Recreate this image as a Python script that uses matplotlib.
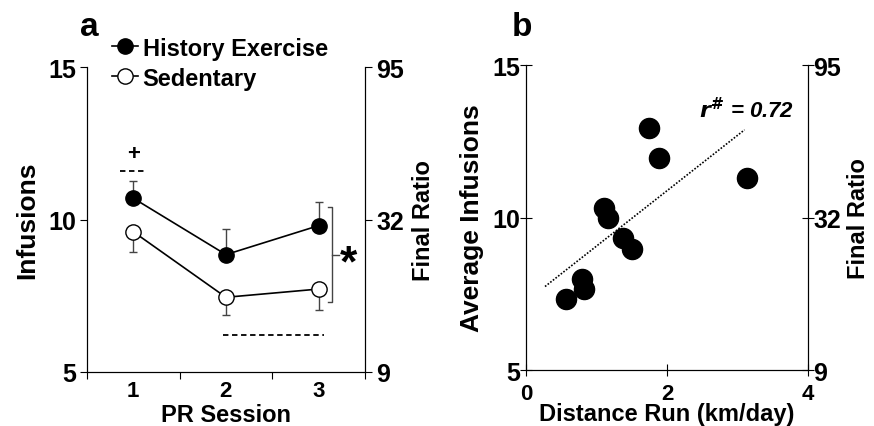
import matplotlib.pyplot as plt

plt.rcParams['font.family'] = ['Liberation Sans', 'DejaVu Sans']
plt.rcParams['font.weight'] = 'bold'

# panel a data
sessions = [1, 2, 3]
exercise_mean = [10.7, 8.85, 9.8]
exercise_sem = [0.55, 0.85, 0.78]
sedentary_mean = [9.6, 7.45, 7.72]
sedentary_sem = [0.68, 0.58, 0.68]

# panel b data
distance = [0.57, 0.80, 0.82, 1.10, 1.17, 1.37, 1.50, 1.74, 1.88, 3.13]
avg_infusions = [7.32, 7.98, 7.65, 10.33, 10.0, 9.32, 8.98, 12.95, 11.97, 11.29]
fit_x = [0.27, 3.10]
fit_y = [7.74, 12.88]

left_ticks = [5, 10, 15]
right_labels = ['9', '32', '95']

fig = plt.figure(figsize=(8.74, 4.27), dpi=100)

# ---- panel a ----
ax1 = fig.add_axes([0.0995, 0.1265, 0.318, 0.714])
ax1.errorbar(sessions, exercise_mean, yerr=[[0, 0, 0], exercise_sem], fmt='none',
             ecolor='#444444', elinewidth=1.0, capsize=3, capthick=1.0)
ax1.errorbar(sessions, sedentary_mean, yerr=[sedentary_sem, [0, 0, 0]], fmt='none',
             ecolor='#444444', elinewidth=1.0, capsize=3, capthick=1.0)
ax1.plot(sessions, exercise_mean, '-o', color='black', mfc='black', mec='black',
         ms=11, lw=1.2, label='History Exercise', zorder=3)
ax1.plot(sessions, sedentary_mean, '-o', color='black', mfc='white', mec='black',
         ms=11, lw=1.2, label='Sedentary', zorder=3)

ax1.set_xlim(0.5, 3.5)
ax1.set_ylim(5, 15)
ax1.set_yticks(left_ticks)
ax1.set_xticks([0.5, 1.5, 2.5, 3.5])
ax1.set_xticklabels([])
ax1.set_xticks(sessions, minor=True)
ax1.set_xticklabels([str(s) for s in sessions], minor=True)
ax1.tick_params(axis='x', which='minor', length=0, labelsize=16, pad=6)
ax1.tick_params(axis='x', which='major', length=5, direction='out')
ax1.tick_params(axis='y', labelsize=18, length=5, pad=3)
ax1.spines['top'].set_visible(False)
ax1.set_ylabel('Infusions', fontsize=19, fontweight='bold', labelpad=6)
ax1.set_xlabel('PR Session', fontsize=17, fontweight='bold', labelpad=1)

# annotations
ax1.text(1.0, 12.15, '+', ha='center', va='center', fontsize=16, fontweight='bold')
ax1.plot([0.86, 1.13], [11.6, 11.6], color='black', ls=(0, (3, 2)), lw=1.3)
ax1.plot([1.97, 3.06], [6.2, 6.2], color='black', ls=(0, (3, 2)), lw=1.3)
ax1.plot([3.10, 3.15, 3.15, 3.10], [10.4, 10.4, 7.3, 7.3], color='#444444', lw=1.0)
ax1.plot([3.15, 3.22], [8.85, 8.85], color='#444444', lw=1.0)
ax1.text(3.32, 8.55, '*', ha='center', va='center', fontsize=32, fontweight='bold')

ax1r = ax1.twinx()
ax1r.set_ylim(5, 15)
ax1r.set_yticks(left_ticks)
ax1r.set_yticklabels(right_labels)
ax1r.tick_params(axis='y', labelsize=18, length=5, pad=3)
ax1r.spines['top'].set_visible(False)
ax1r.set_ylabel('Final Ratio', fontsize=17, fontweight='bold', labelpad=6)

leg = ax1.legend(loc='upper left', bbox_to_anchor=(0.09, 1.10), frameon=False,
                 fontsize=17, handlelength=1.1, handletextpad=0.2,
                 labelspacing=0.3, borderaxespad=0, borderpad=0)
for t in leg.get_texts():
    t.set_fontweight('bold')

fig.text(0.092, 0.935, 'a', fontsize=24, fontweight='bold', ha='left', va='center')

# ---- panel b ----
ax2 = fig.add_axes([0.6018, 0.131, 0.3227, 0.714])
ax2.scatter(distance, avg_infusions, s=210, color='black', zorder=3)
ax2.plot(fit_x, fit_y, color='black', ls=(0, (1, 1)), lw=1.2)
ax2.text(2.45, 13.55, r'$\boldsymbol{r}^{\#}$ = 0.72', fontsize=16, fontweight='bold',
         fontstyle='italic', ha='left', va='center')
ax2.set_xlim(0, 4)
ax2.set_ylim(5, 15)
ax2.set_xticks([0, 2, 4])
ax2.set_yticks(left_ticks)
ax2.tick_params(axis='y', labelsize=18, length=8, direction='inout', pad=0)
ax2.tick_params(axis='x', labelsize=16, length=8, direction='inout', pad=5)
ax2.spines['top'].set_visible(False)
ax2.set_ylabel('Average Infusions', fontsize=19, fontweight='bold', labelpad=6)
ax2.set_xlabel('Distance Run (km/day)', fontsize=17, fontweight='bold', labelpad=-1)

ax2r = ax2.twinx()
ax2r.set_ylim(5, 15)
ax2r.set_yticks(left_ticks)
ax2r.set_yticklabels(right_labels)
ax2r.tick_params(axis='y', labelsize=18, length=8, direction='inout', pad=0)
ax2r.spines['top'].set_visible(False)
ax2r.set_ylabel('Final Ratio', fontsize=17, fontweight='bold', labelpad=4)

fig.text(0.586, 0.935, 'b', fontsize=24, fontweight='bold', ha='left', va='center')

fig.savefig('out.png', dpi=100)
